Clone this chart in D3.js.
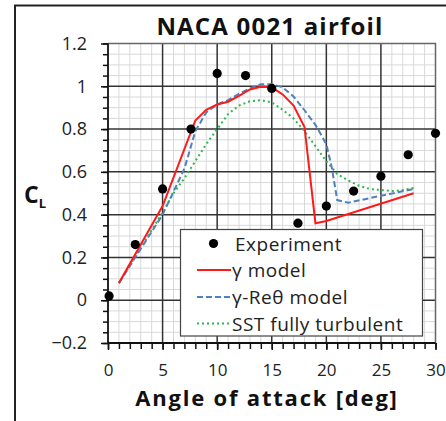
<!DOCTYPE html>
<html>
<head>
<meta charset="utf-8">
<script src="https://cdn.jsdelivr.net/npm/d3@7"></script>
<style>
  html, body { margin: 0; padding: 0; background: #fff; }
  svg { display: block; font-family: "Open Sans", sans-serif; }
</style>
</head>
<body>
<svg id="chart" width="446" height="421"></svg>
<script>
// Lift coefficient of a NACA 0021 airfoil vs. angle of attack
const title = "NACA 0021 airfoil";
const xTitle = "Angle of attack [deg]";
const xTicks = [0, 5, 10, 15, 20, 25, 30];
const yTicks = [-0.2, 0, 0.2, 0.4, 0.6, 0.8, 1, 1.2];

// Wind-tunnel measurements
const expAlpha = [0.1, 2.5, 5, 7.6, 10, 12.6, 15, 17.4, 20, 22.5, 25, 27.5, 30];
const expCL    = [0.02, 0.26, 0.52, 0.80, 1.06, 1.05, 0.99, 0.36, 0.44, 0.51, 0.58, 0.68, 0.78];

// γ transition model
const gammaAlpha = [1, 5, 8, 9, 10, 11, 12, 13, 14, 15, 16, 17, 18, 19, 20, 28];
const gammaCL    = [0.08, 0.44, 0.84, 0.89, 0.915, 0.928, 0.955, 0.985, 0.998, 0.995, 0.962, 0.91, 0.81, 0.36, 0.37, 0.50];

// γ-Reθ transition model
const reAlpha = [1, 5, 7, 8, 9, 10, 11, 12, 13, 14, 15, 16, 17, 18, 19, 20, 20.5, 21, 22, 28];
const reCL    = [0.08, 0.40, 0.615, 0.79, 0.878, 0.915, 0.935, 0.965, 0.99, 1.01, 1.01, 0.995, 0.952, 0.888, 0.82, 0.73, 0.62, 0.468, 0.456, 0.52];

// SST, fully turbulent
const sstAlpha = [1, 5, 6, 7, 8, 9, 10, 11, 12, 13, 14, 15, 16, 17, 18, 19, 20, 21, 22, 23, 24, 25, 26, 27, 28];
const sstCL    = [0.08, 0.41, 0.50, 0.57, 0.65, 0.73, 0.80, 0.87, 0.91, 0.93, 0.935, 0.925, 0.89, 0.85, 0.79, 0.72, 0.65, 0.59, 0.56, 0.535, 0.52, 0.515, 0.51, 0.515, 0.525];

const svg = d3.select("#chart");

// outer frame
svg.append("path").attr("d", "M15,421 V5.5 H446")
  .attr("fill", "none").attr("stroke", "#222").attr("stroke-width", 2);

const x = d3.scaleLinear().domain([0, 30]).range([108, 435.5]);
const y = d3.scaleLinear().domain([-0.2, 1.2]).range([343, 43.5]);

const grid = svg.append("g");
// minor grid
grid.selectAll(".vmin").data(d3.range(1, 30).filter(v => v % 5 !== 0)).join("line")
  .attr("x1", d => x(d)).attr("x2", d => x(d)).attr("y1", y(1.2)).attr("y2", y(-0.2))
  .attr("stroke", "#d9d9d9").attr("stroke-width", 1);
grid.selectAll(".hmin").data(d3.range(-0.15, 1.2, 0.05).filter(v => Math.abs(Math.round(v * 20) % 4) !== 0)).join("line")
  .attr("x1", x(0)).attr("x2", x(30)).attr("y1", d => y(d)).attr("y2", d => y(d))
  .attr("stroke", "#d9d9d9").attr("stroke-width", 1);
// major grid
grid.selectAll(".vmaj").data(xTicks.slice(1, -1)).join("line")
  .attr("x1", d => x(d)).attr("x2", d => x(d)).attr("y1", y(1.2)).attr("y2", y(-0.2))
  .attr("stroke", "#333").attr("stroke-width", 1.5);
grid.selectAll(".hmaj").data(yTicks.slice(1, -1)).join("line")
  .attr("x1", x(0)).attr("x2", x(30)).attr("y1", d => y(d)).attr("y2", d => y(d))
  .attr("stroke", "#333").attr("stroke-width", 1.5);
// plot border top / right
grid.append("path").attr("d", `M${x(0)},${y(1.2)} H${x(30)} V${y(-0.2)}`)
  .attr("fill", "none").attr("stroke", "#666").attr("stroke-width", 1.5);

// axes
const minorY = d3.range(-0.2, 1.2001, 0.05).map(v => +v.toFixed(2));
svg.append("g").attr("transform", `translate(${x(0)},0)`)
  .call(d3.axisLeft(y).tickValues(minorY).tickSize(5).tickFormat(""))
  .call(g => g.select(".domain").remove())
  .selectAll("line").attr("stroke", "#111").attr("stroke-width", 1.5);
const yAxis = svg.append("g").attr("transform", `translate(${x(0)},0)`)
  .call(d3.axisLeft(y).tickValues(yTicks).tickSize(7).tickPadding(14).tickFormat(d => d3.format("")(+d.toFixed(1))));
yAxis.select(".domain").remove();
yAxis.selectAll("line").attr("stroke", "#111").attr("stroke-width", 1.5);
yAxis.selectAll("text").attr("font-size", 18).attr("fill", "#222")
  .attr("font-family", "'Open Sans', sans-serif");

svg.append("g").attr("transform", `translate(0,${y(-0.2)})`)
  .call(d3.axisBottom(x).tickValues(d3.range(0, 31)).tickSize(6).tickFormat(""))
  .call(g => g.select(".domain").remove())
  .selectAll("line").attr("stroke", "#111").attr("stroke-width", 1.5);
const xAxis = svg.append("g").attr("transform", `translate(0,${y(-0.2)})`)
  .call(d3.axisBottom(x).tickValues(xTicks).tickSize(7).tickPadding(14));
xAxis.select(".domain").remove();
xAxis.selectAll("line").attr("stroke", "#111").attr("stroke-width", 1.5);
xAxis.selectAll("text").attr("font-size", 17).attr("fill", "#222")
  .attr("font-family", "'Open Sans', sans-serif");

// axis lines
svg.append("path").attr("d", `M${x(0)},${y(1.2)} V${y(-0.2)} H${x(30)}`)
  .attr("fill", "none").attr("stroke", "#111").attr("stroke-width", 1.8);

// model curves
const line = d3.line().x(d => x(d[0])).y(d => y(d[1]));
const series = [
  { name: "γ model", a: gammaAlpha, c: gammaCL, color: "#ff1a1a", dash: null },
  { name: "γ-Reθ model", a: reAlpha, c: reCL, color: "#4f81bd", dash: "6,3" },
  { name: "SST fully turbulent", a: sstAlpha, c: sstCL, color: "#2db84d", dash: "2,3" }
];
// draw SST first so the other curves sit on top
[series[2], series[1], series[0]].forEach(s => {
  svg.append("path").datum(d3.zip(s.a, s.c)).attr("d", line)
    .attr("fill", "none").attr("stroke", s.color).attr("stroke-width", 2)
    .attr("stroke-dasharray", s.dash);
});

// experiment markers
svg.append("g").selectAll("circle").data(d3.zip(expAlpha, expCL)).join("circle")
  .attr("cx", d => x(d[0])).attr("cy", d => y(d[1])).attr("r", 4.6).attr("fill", "#000");

// legend
const lg = svg.append("g");
lg.append("rect").attr("x", 180.5).attr("y", 229.5).attr("width", 242).attr("height", 106.5)
  .attr("fill", "#fff").attr("stroke", "#444").attr("stroke-width", 1.2);
const rows = [243.5, 270, 297, 323.5];
lg.append("circle").attr("cx", 213.5).attr("cy", rows[0]).attr("r", 4.6).attr("fill", "#000");
series.forEach((s, i) => {
  lg.append("line").attr("x1", 197).attr("x2", 231).attr("y1", rows[i + 1]).attr("y2", rows[i + 1])
    .attr("stroke", s.color).attr("stroke-width", 2).attr("stroke-dasharray", s.dash);
});
const names = ["Experiment"].concat(series.map(s => s.name));
names.forEach((n, i) => {
  lg.append("text").attr("x", i === 0 ? 235 : 232).attr("y", rows[i] + 7)
    .attr("font-size", 19).attr("letter-spacing", 0.5).attr("fill", "#222").text(n);
});

// titles
svg.append("text").attr("x", 270).attr("y", 35).attr("text-anchor", "middle")
  .attr("font-size", 24).attr("letter-spacing", 1.2).attr("font-weight", "bold").attr("fill", "#111").text(title);
svg.append("text").attr("x", 267).attr("y", 406).attr("text-anchor", "middle")
  .attr("font-size", 22).attr("letter-spacing", 1.8).attr("font-weight", "bold").attr("fill", "#111").text(xTitle);
const yt = svg.append("text").attr("x", 24).attr("y", 203).attr("font-weight", "bold").attr("fill", "#111");
yt.append("tspan").attr("font-size", 23).text("C");
yt.append("tspan").attr("font-size", 13).attr("dy", 5).text("L");
</script>
</body>
</html>
